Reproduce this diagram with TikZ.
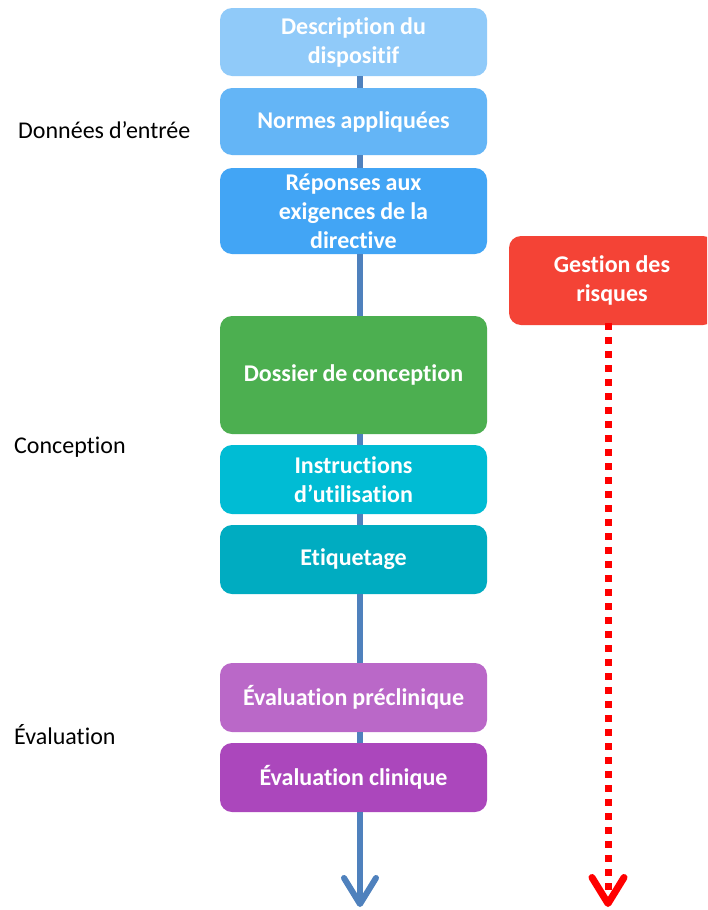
\documentclass[tikz,border=0pt]{standalone}
\usepackage{fontspec}
\setmainfont{Carlito}[Ligatures={NoCommon}]
\usetikzlibrary{arrows.meta}
\definecolor{cA}{HTML}{90CAF9}
\definecolor{cB}{HTML}{64B5F6}
\definecolor{cC}{HTML}{42A5F5}
\definecolor{cD}{HTML}{4CAF50}
\definecolor{cE}{HTML}{00BCD4}
\definecolor{cF}{HTML}{00ACC1}
\definecolor{cG}{HTML}{BA68C8}
\definecolor{cH}{HTML}{AB47BC}
\definecolor{cR}{HTML}{F44336}
\definecolor{spine}{HTML}{4F81BD}
\newcommand{\tightspace}{\spaceskip=5pt\relax}
\begin{document}
\begin{tikzpicture}[x=1pt,y=-1pt,
  box/.style={rounded corners=12pt, minimum width=267pt, text width=250pt, align=center,
    text=white, font=\fontsize{24}{29}\selectfont\bfseries, inner sep=0pt,
    execute at begin node=\tightspace},
  lab/.style={anchor=west, font=\fontsize{24}{29}\selectfont, text=black, inner sep=0pt,
    execute at begin node=\tightspace},
  spineline/.style={draw=spine, line width=6pt},
  riskline/.style={draw=red, line width=7pt, dash pattern=on 7pt off 7pt}
]
\clip (0,0) rectangle (707,910);
\useasboundingbox (0,0) rectangle (707,910);
\fill[white] (0,0) rectangle (707,910);

\node[box, fill=cA, minimum height=68pt] (b1) at (353.5,42) {Description du\\dispositif};
\node[box, fill=cB, minimum height=67pt] (b2) at (353.5,121.5) {Normes appliquées};
\node[box, fill=cC, minimum height=86pt] (b3) at (353.5,211) {Réponses aux\\exigences de la\\directive};
\node[box, fill=cD, minimum height=118pt] (b4) at (353.5,375) {Dossier de conception};
\node[box, fill=cE, minimum height=69pt] (b5) at (353.5,479.5) {Instructions\\d’utilisation};
\node[box, fill=cF, minimum height=69pt] (b6) at (353.5,559.5) {Etiquetage};
\node[box, fill=cG, minimum height=69pt] (b7) at (353.5,697.5) {Évaluation préclinique};
\node[box, fill=cH, minimum height=69pt] (b8) at (353.5,777.5) {Évaluation clinique};
\node[box, fill=cR, minimum width=206pt, text width=180pt, minimum height=89pt] (risk) at (612,280.5) {Gestion des\\risques};

\node[lab] (l1) at (18,130) {Données d’entrée};
\node[lab] (l2) at (14,447) {Conception};
\node[lab] (l3) at (14,735) {Évaluation};

\coordinate (endA) at (360,907);
\coordinate (endB) at (608,907);

\draw[spineline] ([xshift=6.5pt]b1.south) -- ([xshift=6.5pt]b2.north);
\draw[spineline] ([xshift=6.5pt]b2.south) -- ([xshift=6.5pt]b3.north);
\draw[spineline] ([xshift=6.5pt]b3.south) -- ([xshift=6.5pt]b4.north);
\draw[spineline] ([xshift=6.5pt]b4.south) -- ([xshift=6.5pt]b5.north);
\draw[spineline] ([xshift=6.5pt]b5.south) -- ([xshift=6.5pt]b6.north);
\draw[spineline] ([xshift=6.5pt]b6.south) -- ([xshift=6.5pt]b7.north);
\draw[spineline] ([xshift=6.5pt]b7.south) -- ([xshift=6.5pt]b8.north);
\draw[spineline, -{Straight Barb[length=26pt,width=32pt,round]}] ([xshift=6.5pt]b8.south) -- (endA);

\draw[riskline, -{Straight Barb[length=26pt,width=32pt,round]}] ([xshift=-4pt,yshift=2pt]risk.south) -- (endB);
\end{tikzpicture}
\end{document}
